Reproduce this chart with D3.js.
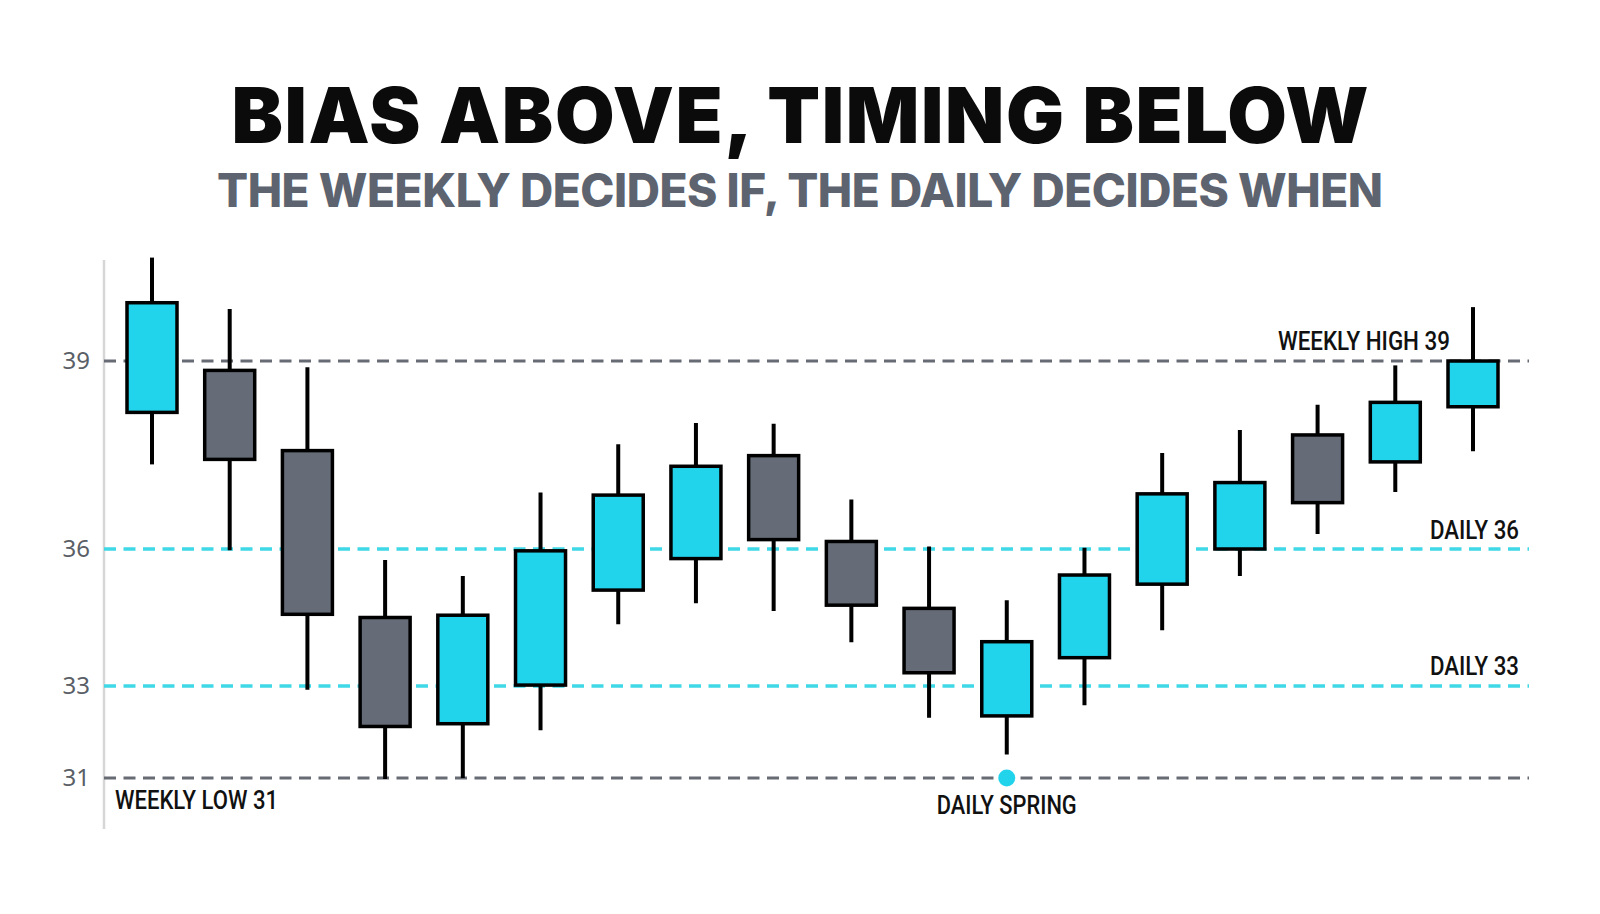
<!DOCTYPE html>
<html>
<head>
<meta charset="utf-8">
<script src="https://cdn.jsdelivr.net/npm/d3@7"></script>
<style>
  body { margin: 0; background: #fff; }
  svg { display: block; }
</style>
</head>
<body>
<div id="chart"></div>
<script>
// candle data
const opens  = [38.18, 38.85, 37.57, 34.50, 32.18, 33.02, 35.10, 35.79, 37.49, 36.12, 34.70, 32.35, 33.62, 35.23, 36.00, 37.82, 37.39, 38.27];
const closes = [39.93, 37.43, 34.57, 32.12, 34.55, 35.96, 36.86, 37.32, 36.15, 34.77, 33.29, 33.97, 35.43, 36.88, 37.06, 36.74, 38.34, 39.00];
const highs  = [40.65, 39.83, 38.90, 35.76, 35.41, 36.90, 37.67, 38.01, 38.00, 36.79, 36.04, 34.88, 36.02, 37.53, 37.90, 38.30, 38.93, 39.86];
const lows   = [37.35, 35.97, 32.92, 30.98, 31.00, 32.04, 34.35, 34.81, 34.64, 33.96, 32.31, 31.51, 32.58, 34.22, 35.41, 36.24, 36.91, 37.56];

// reference levels
const levelValues = [39, 36, 33, 31];
const levelLabels = ["WEEKLY HIGH 39", "DAILY 36", "DAILY 33", "WEEKLY LOW 31"];
const levelKinds  = ["weekly", "daily", "daily", "weekly"];

// y tick labels
const tickValues = [31, 33, 36, 39];

// spring marker
const springIndex = 11;
const springValue = 31;
const springLabel = "DAILY SPRING";

const title = "BIAS ABOVE, TIMING BELOW";
const subtitle = "THE WEEKLY DECIDES IF, THE DAILY DECIDES WHEN";

const width = 1600, height = 914;
const cyan = "#22d3ec", gray = "#656c77";

const svg = d3.select("#chart").append("svg")
  .attr("width", width)
  .attr("height", height);

svg.append("rect").attr("width", width).attr("height", height).attr("fill", "#fff");

const candles = opens.map((o, i) => ({ i, o, c: closes[i], h: highs[i], l: lows[i] }));

const x = d3.scalePoint()
  .domain(candles.map(d => d.i))
  .range([152, 1473]);

// the picture's axis is not evenly spaced, so use a piecewise scale
const y = d3.scaleLinear()
  .domain([31, 33, 36, 39])
  .range([778, 686, 549, 361]);

const plotLeft = 104, plotRight = 1529;

// titles
svg.append("text")
  .attr("x", width / 2).attr("y", 143)
  .attr("text-anchor", "middle")
  .attr("font-family", "Inter, sans-serif")
  .attr("font-weight", 900)
  .attr("font-size", 77)
  .attr("fill", "#0b0b0b")
  .attr("textLength", 1137)
  .text(title);

svg.append("text")
  .attr("x", width / 2).attr("y", 207)
  .attr("text-anchor", "middle")
  .attr("font-family", "Inter, sans-serif")
  .attr("font-weight", 800)
  .attr("font-size", 46)
  .attr("fill", "#5d6470")
  .attr("textLength", 1166)
  .text(subtitle);

// y axis line + tick labels
svg.append("line")
  .attr("x1", plotLeft).attr("x2", plotLeft)
  .attr("y1", 260).attr("y2", 829)
  .attr("stroke", "#d6d6d6")
  .attr("stroke-width", 2.5);

const yAxis = svg.append("g")
  .attr("transform", `translate(${plotLeft - 14},0)`)
  .call(d3.axisLeft(y).tickValues(tickValues).tickSize(0).tickPadding(0).tickFormat(d3.format("d")));
yAxis.select(".domain").remove();
yAxis.selectAll("text")
  .attr("font-family", "'Noto Sans', sans-serif")
  .attr("font-size", 24)
  .attr("fill", "#5a5f67");

// level lines
levelValues.forEach((v, k) => {
  const weekly = levelKinds[k] === "weekly";
  svg.append("line")
    .attr("x1", plotLeft).attr("x2", plotRight)
    .attr("y1", y(v)).attr("y2", y(v))
    .attr("stroke", weekly ? "#666b74" : "#3fd8e6")
    .attr("stroke-width", weekly ? 3 : 3.5)
    .attr("stroke-dasharray", "12,7.5");
});

// candles
const g = svg.append("g");

g.selectAll("line.wick")
  .data(candles)
  .enter()
  .append("line")
  .attr("class", "wick")
  .attr("x1", d => x(d.i)).attr("x2", d => x(d.i))
  .attr("y1", d => y(d.h)).attr("y2", d => y(d.l))
  .attr("stroke", "#000")
  .attr("stroke-width", 4);

const bodyW = 50;
g.selectAll("rect.body")
  .data(candles)
  .enter()
  .append("rect")
  .attr("class", "body")
  .attr("x", d => x(d.i) - bodyW / 2)
  .attr("width", bodyW)
  .attr("y", d => y(Math.max(d.o, d.c)))
  .attr("height", d => y(Math.min(d.o, d.c)) - y(Math.max(d.o, d.c)))
  .attr("fill", d => d.c >= d.o ? cyan : gray)
  .attr("stroke", "#000")
  .attr("stroke-width", 3.5);

// level labels
const labelFont = "Roboto, sans-serif";
function label(txt, xp, yp, anchor, len) {
  svg.append("text")
    .attr("x", xp).attr("y", yp)
    .attr("text-anchor", anchor)
    .attr("font-family", labelFont)
    .attr("font-weight", 500)
    .attr("font-size", 25)
    .attr("fill", "#111")
    .attr("textLength", len)
    .attr("lengthAdjust", "spacingAndGlyphs")
    .text(txt);
}
label(levelLabels[0], 1450, y(39) - 11, "end", 172);
label(levelLabels[1], 1519, y(36) - 10, "end", 89);
label(levelLabels[2], 1519, y(33) - 11, "end", 89);
label(levelLabels[3], 115, y(31) + 31, "start", 163);

// spring marker
svg.append("circle")
  .attr("cx", x(springIndex))
  .attr("cy", y(springValue))
  .attr("r", 8.5)
  .attr("fill", cyan);
label(springLabel, x(springIndex), y(springValue) + 36, "middle", 140);
</script>
</body>
</html>
